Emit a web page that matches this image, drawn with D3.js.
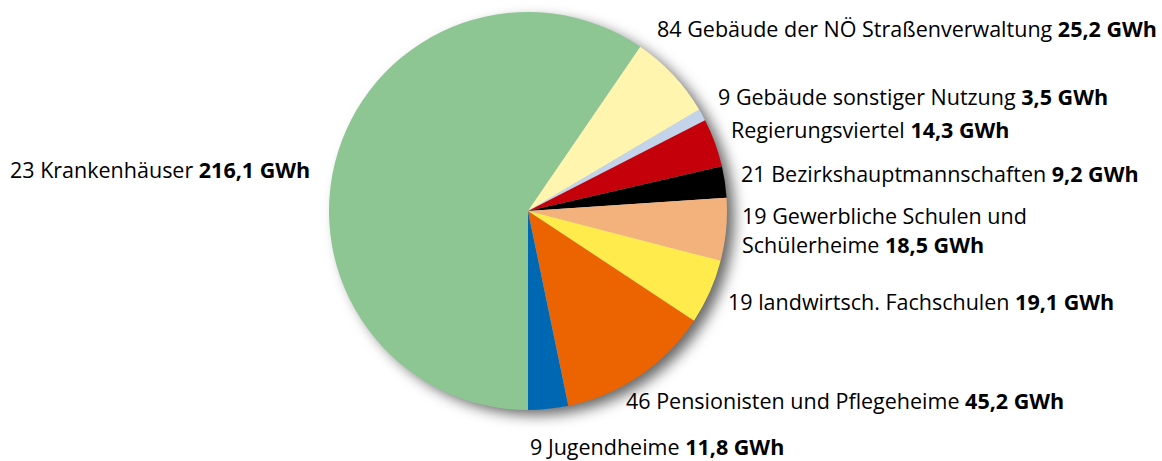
<!DOCTYPE html>
<html>
<head>
<meta charset="utf-8">
<script src="https://cdn.jsdelivr.net/npm/d3@7"></script>
<style>
  html, body { margin: 0; padding: 0; background: #fff; }
  svg { display: block; }
  text { font-family: "Open Sans", "Noto Sans", sans-serif; fill: #000; }
</style>
</head>
<body>
<svg id="chart" width="1162" height="461"></svg>
<script>
// Energy consumption of provincial buildings (GWh), by building type
const counts = ["23", "84", "9", "", "21", "19", "19", "46", "9"];
const names = [
  "Krankenhäuser",
  "Gebäude der NÖ Straßenverwaltung",
  "Gebäude sonstiger Nutzung",
  "Regierungsviertel",
  "Bezirkshauptmannschaften",
  "Gewerbliche Schulen und|Schülerheime",
  "landwirtsch. Fachschulen",
  "Pensionisten und Pflegeheime",
  "Jugendheime"
];
const values = [216.1, 25.2, 3.5, 14.3, 9.2, 18.5, 19.1, 45.2, 11.8];
const colors = ["#8dc593", "#fff5ae", "#c3d3ea", "#c4000b", "#000000", "#f3b17b", "#ffec4c", "#ec6402", "#0067b2"];

// label anchor points (left edge, first baseline)
const labelPos = [
  [10, 178], [657, 37], [718, 105], [731, 138], [741, 182],
  [742, 224], [728, 310], [626, 409], [530, 455]
];

const svg = d3.select("#chart");
const cx = 528, cy = 211, r = 199;

const defs = svg.append("defs");
const f = defs.append("filter").attr("id", "shadow")
  .attr("x", "-20%").attr("y", "-20%").attr("width", "140%").attr("height", "140%");
f.append("feDropShadow").attr("dx", 8).attr("dy", 6)
  .attr("stdDeviation", 7).attr("flood-color", "#000").attr("flood-opacity", 0.6);

const pie = d3.pie().sort(null).value(d => d)
  .startAngle(Math.PI).endAngle(3 * Math.PI);
const arc = d3.arc().innerRadius(0).outerRadius(r);

const g = svg.append("g").attr("transform", `translate(${cx},${cy})`);
g.append("circle").attr("r", r - 1).attr("fill", "#ccc").attr("filter", "url(#shadow)");
g.selectAll("path").data(pie(values)).join("path")
  .attr("d", arc)
  .attr("fill", (d, i) => colors[i]);

const fmt = v => d3.format(".1f")(v).replace(".", ",");
const lineH = 29;

names.forEach((name, i) => {
  const lines = name.split("|");
  const [x, y] = labelPos[i];
  const t = svg.append("text").attr("x", x).attr("y", y).attr("font-size", 21.5);
  lines.forEach((ln, j) => {
    const prefix = (j === 0 && counts[i]) ? counts[i] + " " : "";
    t.append("tspan").attr("x", x).attr("y", y + j * lineH)
      .text(prefix + ln);
    if (j === lines.length - 1) {
      t.append("tspan").attr("font-weight", "bold").text(" " + fmt(values[i]) + " GWh");
    }
  });
});
</script>
</body>
</html>
